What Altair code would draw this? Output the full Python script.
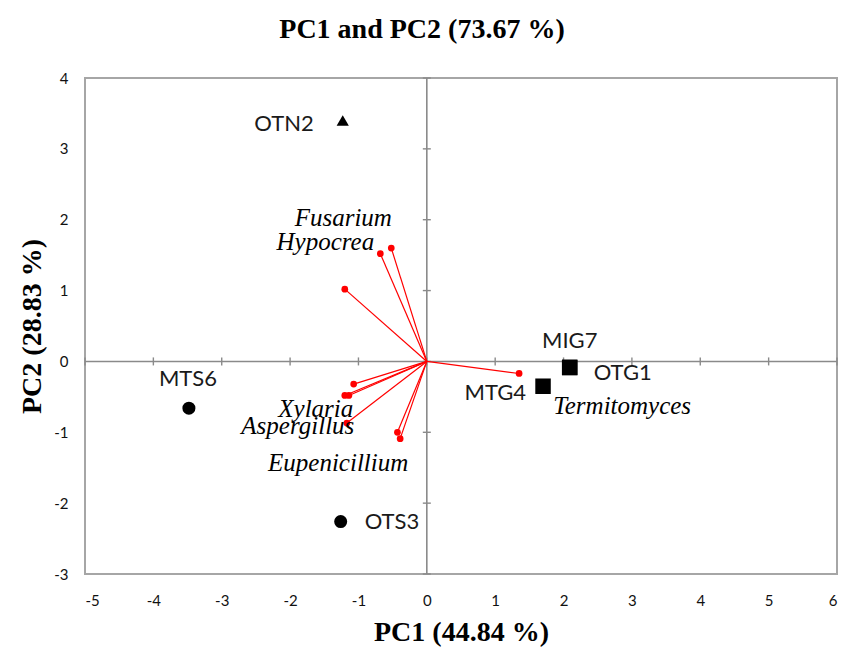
import altair as alt
import pandas as pd

# ---- data ----
sample_names = ["OTN2", "MTS6", "OTS3", "MTG4", "MIG7", "OTG1"]
sample_pc1 = [-1.23, -3.48, -1.26, 1.70, 2.09, 2.09]
sample_pc2 = [3.40, -0.66, -2.26, -0.35, -0.085, -0.085]
sample_shape = ["triangle-up", "circle", "circle", "square", "square", "square"]

genus_names = ["Fusarium", "Hypocrea", "", "", "Xylaria", "", "Aspergillus", "", "Eupenicillium", "Termitomyces"]
genus_pc1 = [-0.52, -0.68, -1.20, -1.07, -1.20, -1.14, -1.17, -0.43, -0.39, 1.35]
genus_pc2 = [1.60, 1.52, 1.02, -0.32, -0.48, -0.48, -0.87, -1.00, -1.09, -0.17]

x_ticks = list(range(-5, 7))
y_ticks = list(range(-3, 5))

title_text = "PC1 and PC2 (73.67 %)"
x_title = "PC1 (44.84 %)"
y_title = "PC2 (28.83 %)"

# ---- styles (label offsets in pixels) ----
sample_label_style = {
    "OTN2": ("right", -29, 3),
    "MTS6": ("center", -1, -29),
    "OTS3": ("left", 24, 0),
    "MTG4": ("right", -17, 7),
    "MIG7": ("center", 0, -26),
    "OTG1": ("left", 24, 6),
}
genus_label_style = {
    "Fusarium": (-48, -30),
    "Hypocrea": (-55, -12),
    "Xylaria": (-29, 14),
    "Aspergillus": (-49, 3),
    "Eupenicillium": (-62, 24),
    "Termitomyces": (103, 33),
}

samples = pd.DataFrame({"name": sample_names, "pc1": sample_pc1, "pc2": sample_pc2, "shape": sample_shape})
genus = pd.DataFrame({"name": genus_names, "pc1": genus_pc1, "pc2": genus_pc2})
genus["ox"] = 0.0
genus["oy"] = 0.0
xt = pd.DataFrame({"v": x_ticks, "z": 0})
yt = pd.DataFrame({"v": y_ticks, "z": 0})
zero = pd.DataFrame({"z": [0]})

xs = alt.Scale(domain=[-5, 6], nice=False, zero=False)
ys = alt.Scale(domain=[-3, 4], nice=False, zero=False)

GRAY = "#8a8a8a"

x_axis = alt.Axis(values=x_ticks, title=x_title, grid=False, ticks=False, tickSize=0, domain=False,
                  labelFont="Lato", labelFontSize=15, labelColor="#111111", labelPadding=19,
                  labelExpr="'' + datum.value",
                  titleFont="Liberation Serif", titleFontSize=28, titleFontWeight="bold",
                  titleColor="black", titlePadding=10)
y_axis = alt.Axis(values=y_ticks, title=y_title, grid=False, ticks=False, tickSize=0, domain=False,
                  labelFont="Lato", labelFontSize=15, labelColor="#111111", labelPadding=17,
                  labelExpr="'' + datum.value",
                  titleFont="Liberation Serif", titleFontSize=28, titleFontWeight="bold",
                  titleColor="black", titlePadding=7)


def X(field):
    return alt.X(field, scale=xs, axis=x_axis)


def Y(field):
    return alt.Y(field, scale=ys, axis=y_axis)


vline = alt.Chart(zero).mark_rule(color=GRAY, strokeWidth=1.6).encode(x=X("z:Q"))
hline = alt.Chart(zero).mark_rule(color=GRAY, strokeWidth=1.6).encode(y=Y("z:Q"))

xticks_m = alt.Chart(xt).mark_point(shape="M0,-1L0,1", filled=False, color=GRAY, strokeWidth=1.4,
                                    size=64, opacity=1).encode(x=X("v:Q"), y=Y("z:Q"))
yticks_m = alt.Chart(yt).mark_point(shape="M-1,0L1,0", filled=False, color=GRAY, strokeWidth=1.4,
                                    size=64, opacity=1).encode(y=Y("v:Q"), x=X("z:Q"))

vectors = alt.Chart(genus).mark_rule(color="#ff0000", strokeWidth=1.2).encode(
    x=X("ox:Q"), y=Y("oy:Q"), x2="pc1:Q", y2="pc2:Q")
tips = alt.Chart(genus).mark_circle(color="#ff0000", size=45, opacity=1).encode(
    x=X("pc1:Q"), y=Y("pc2:Q"))

layers = [vline, hline, xticks_m, yticks_m, vectors, tips]

for name, (dx, dy) in genus_label_style.items():
    layers.append(
        alt.Chart(genus).transform_filter(alt.datum.name == name).mark_text(
            font="Liberation Serif", fontSize=25, fontStyle="italic", color="black",
            align="center", baseline="middle", dx=dx, dy=dy).encode(
            x=X("pc1:Q"), y=Y("pc2:Q"), text="name:N"))

shape_size = {"triangle-up": 150, "circle": 170, "square": 240}
for shp, sz in shape_size.items():
    layers.append(
        alt.Chart(samples).transform_filter(alt.datum.shape == shp).mark_point(
            shape=shp, filled=True, color="black", size=sz, opacity=1).encode(
            x=X("pc1:Q"), y=Y("pc2:Q")))

for name, (al, dx, dy) in sample_label_style.items():
    layers.append(
        alt.Chart(samples).transform_filter(alt.datum.name == name).mark_text(
            font="Lato", fontSize=22, color="#1a1a1a", align=al, baseline="middle",
            dx=dx, dy=dy).encode(
            x=X("pc1:Q"), y=Y("pc2:Q"), text="name:N"))

chart = alt.layer(*layers).properties(
    width=752, height=496,
    title=alt.TitleParams(text=title_text, font="Liberation Serif", fontSize=28, fontWeight="bold",
                          color="black", anchor="middle", dx=-39, offset=5, baseline="alphabetic"),
    autosize=alt.AutoSizeParams(type="none"),
    padding={"left": 85, "top": 78, "right": 4, "bottom": 75},
    background="white",
).configure_view(stroke="#a6a6a6", strokeWidth=2)

chart.save("out.html", embed_options={"renderer": "svg", "actions": False})
